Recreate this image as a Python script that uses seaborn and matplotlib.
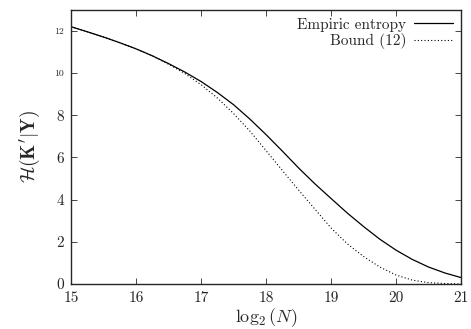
## Empiric entropy vs bound, recreated with seaborn

import pandas as pd
import numpy as np
import seaborn as sns
from matplotlib import pyplot as plt

log_n = [15, 15.25, 15.5, 15.75, 16, 16.25, 16.5, 16.75, 17, 17.25, 17.5, 17.75, 18,
         18.25, 18.5, 18.75, 19, 19.25, 19.5, 19.75, 20, 20.25, 20.5, 20.75, 21]
empiric = [12.2, 11.96, 11.71, 11.44, 11.15, 10.82, 10.45, 10.05, 9.6, 9.08, 8.5, 7.82, 7.08,
           6.3, 5.5, 4.75, 4.05, 3.36, 2.72, 2.12, 1.6, 1.16, 0.8, 0.52, 0.3]
bound = [12.2, 11.96, 11.71, 11.44, 11.15, 10.82, 10.42, 9.98, 9.45, 8.82, 8.08, 7.25, 6.32,
         5.38, 4.45, 3.55, 2.65, 1.9, 1.3, 0.8, 0.42, 0.18, 0.06, 0.02, 0.0]

x_ticks = [15, 16, 17, 18, 19, 20, 21]
y_ticks = [0, 2, 4, 6, 8, 10, 12]

sns.set_style("ticks")
plt.rcParams['font.family'] = 'cmr10'
plt.rcParams['mathtext.fontset'] = 'cm'
plt.rcParams['axes.formatter.use_mathtext'] = True

df = pd.DataFrame({'log_n': log_n, 'empiric': empiric, 'bound': bound})

fig, ax = plt.subplots(figsize=(4.71, 3.29), dpi=100)
fig.subplots_adjust(left=0.151, right=0.979, bottom=0.137, top=0.970)

sns.lineplot(data=df, x='log_n', y='empiric', color='black', lw=0.9, ax=ax, label='Empiric entropy')
sns.lineplot(data=df, x='log_n', y='bound', color='black', lw=0.8, linestyle=(0, (1, 2)), ax=ax, label='Bound (12)')

ax.set_xlim(15, 21)
ax.set_ylim(0, 13)
ax.set_xticks(x_ticks)
ax.set_yticks(y_ticks)
ax.set_xticklabels([str(t) for t in x_ticks], fontsize=11)
ax.set_yticklabels([str(t) for t in y_ticks], fontsize=11)
# gnuplot drew the two top labels smaller
for lbl in ax.get_yticklabels()[-2:]:
    lbl.set_fontsize(7)

ax.tick_params(direction='in', top=True, right=True, length=4, width=0.6)
ax.tick_params(axis='x', pad=5)
ax.tick_params(axis='y', pad=5)
for s in ax.spines.values():
    s.set_linewidth(1.0)
    s.set_visible(True)

ax.set_xlabel(r'$\log_2(N)$', fontsize=13, labelpad=1)
ax.set_ylabel(r"$\mathcal{H}(\mathbf{K}'|\mathbf{Y})$", fontsize=14, labelpad=9)

ax.legend(loc='upper right', frameon=False, markerfirst=False, fontsize=11,
          handlelength=2.6, handletextpad=0.5, labelspacing=0.1,
          borderaxespad=0.3, borderpad=0.2)

fig.savefig('out.png', dpi=100)
